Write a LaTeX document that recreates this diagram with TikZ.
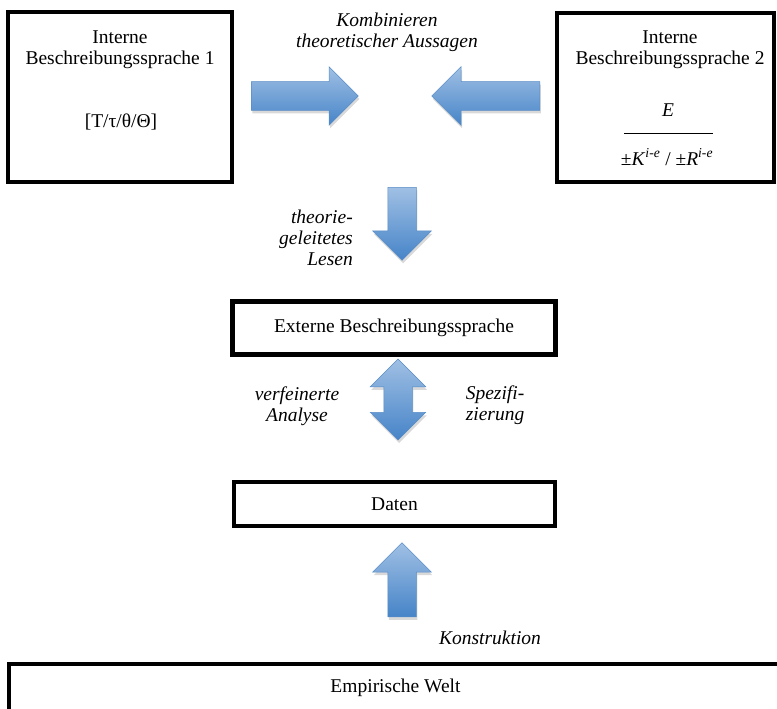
\documentclass[tikz,border=0pt]{standalone}
\usepackage{fontspec}
\setmainfont{Liberation Serif}
\usetikzlibrary{
    positioning,
    shapes.arrows,
    shadows
}

\definecolor{arrowlight}{RGB}{160,192,228}
\definecolor{arrowdark}{RGB}{70,132,200}
\definecolor{arrowedge}{RGB}{88,140,198}

\begin{document}
\begin{tikzpicture}
[
    x=1pt,
    y=-1pt,
    font=\fontsize{19.5pt}{21pt}\selectfont,
    box/.style={
        rectangle,
        draw=black,
        line width=4pt,
        inner sep=0pt
    },
    boxtext/.style={
        align=center,
        inner sep=0pt
    },
    arrowtext/.style={
        align=center,
        inner sep=0pt,
        font=\fontsize{19.5pt}{21pt}\selectfont\itshape
    },
    arrowlook/.style={
        draw=arrowedge,
        line width=0.5pt,
        top color=arrowlight,
        bottom color=arrowdark,
        drop shadow={shadow xshift=1pt, shadow yshift=-3pt, opacity=0.3}
    },
    blockarrow/.style={
        single arrow,
        single arrow head extend=15pt,
        inner xsep=0pt,
        inner ysep=14pt,
        arrowlook
    },
    uprightarrow/.style={
        single arrow,
        single arrow head extend=15pt,
        inner xsep=14pt,
        inner ysep=0pt,
        arrowlook
    },
    twinarrow/.style={
        double arrow,
        double arrow head extend=13.5pt,
        inner xsep=14pt,
        inner ysep=0pt,
        arrowlook
    }
]

\useasboundingbox (0,0) rectangle (777,709);

% =====================
% INTERNAL LANGUAGES
% =====================

\node[
box,
minimum width=224pt,
minimum height=170pt
]
(intern1) at (120,97)
{};

\node[boxtext] (intern1title) at (120,50)
{Interne\\Beschreibungssprache 1};

\node[boxtext] (intern1sym) at (121,122)
{[T/τ/θ/Θ]};


\node[
box,
minimum width=217pt,
minimum height=169pt
]
(intern2) at (665.5,97.5)
{};

\node[boxtext] (intern2title) at (670,50)
{Interne\\Beschreibungssprache 2};

\node[boxtext] (intern2top) at (668,110)
{\textit{E}};

\node[boxtext] (intern2bar) at (668.5,133)
{\rule{89pt}{1pt}};

\node[boxtext] (intern2bottom) at (667,157)
{±\textit{K}\textsuperscript{\textit{i-e}} / ±\textit{R}\textsuperscript{\textit{i-e}}};


% =====================
% COMBINATION
% =====================

\node[arrowtext] (combinetext) at (387,32)
{Kombinieren\\theoretischer Aussagen};

\node[
blockarrow,
minimum height=107pt,
anchor=tail
]
(combineleft) at (251,96)
{};

\node[
blockarrow,
minimum height=108pt,
shape border rotate=180,
anchor=tail
]
(combineright) at (540,96)
{};


% =====================
% READING
% =====================

\node[
uprightarrow,
minimum height=73pt,
shape border rotate=270,
anchor=tail
]
(reading) at (402,187)
{};

\node[arrowtext, align=right, anchor=east] (readingtext) at (353,238)
{theorie-\\geleitetes\\Lesen};


% =====================
% EXTERNAL LANGUAGE
% =====================

\node[
box,
line width=5pt,
minimum width=323pt,
minimum height=53pt
]
(extern) at (394,328)
{Externe Beschreibungssprache};


% =====================
% ANALYSIS
% =====================

\node[
twinarrow,
minimum height=81pt,
shape border rotate=90
]
(analysis) at (398,399.5)
{};

\node[arrowtext] (analysistext) at (297,406)
{verfeinerte\\Analyse};

\node[arrowtext] (specifytext) at (495,405)
{Spezifi-\\zierung};


% =====================
% DATA
% =====================

\node[
box,
minimum width=321pt,
minimum height=44pt
]
(data) at (394.5,504)
{Daten};


% =====================
% CONSTRUCTION
% =====================

\node[
uprightarrow,
minimum height=74pt,
shape border rotate=90,
anchor=tail
]
(construct) at (402,617)
{};

\node[arrowtext] (constructtext) at (490,638)
{Konstruktion};


% =====================
% EMPIRICAL WORLD
% =====================

\node[
box,
minimum width=773pt,
minimum height=48pt
]
(world) at (395.5,688)
{Empirische Welt};

\end{tikzpicture}
\end{document}
